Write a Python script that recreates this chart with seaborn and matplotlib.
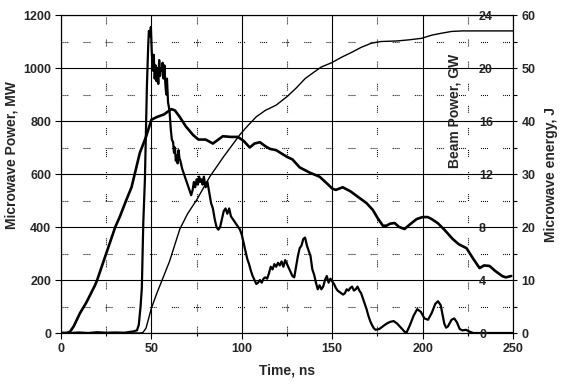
import numpy as np
import pandas as pd
import matplotlib
matplotlib.use('Agg')
import matplotlib.pyplot as plt
from matplotlib.ticker import MultipleLocator
import seaborn as sns

# microwave power, MW (noisy trace)
mw_time = [0, 5, 10, 15, 20, 25, 30, 35, 38, 40, 42, 43, 44, 44.7, 45.5, 46.4, 47.5, 48.2, 48.6,
           49.2, 49.7, 50.2, 50.8, 51.3, 51.8, 52.3, 52.8, 53.3, 53.8, 54.3, 54.8, 55.3, 55.8,
           56.2, 56.7, 57.2, 57.7, 58.2, 58.6, 59.2, 60, 60.7, 61.3, 62, 62.5, 63, 63.5, 64,
           64.5, 65, 65.5, 66, 67, 68, 69, 70, 71, 72, 72.8, 73.5, 74.2, 75, 75.7, 76.4, 77,
           77.7, 78.3, 79, 80, 81, 82, 83, 84, 85, 86, 87, 88, 89, 90, 91, 92, 93, 94, 95, 96,
           97, 98, 99, 100, 101, 102, 103, 104, 105, 106, 107, 108, 109, 110, 111, 112, 113,
           114, 115, 116, 117, 118, 119, 120, 121, 122, 123, 124, 125, 126, 127, 128, 129, 130,
           131, 132, 133, 134, 135, 136, 137, 138, 139, 140, 141, 142, 143, 144, 145, 146, 147,
           148, 149, 150, 151, 152, 153, 154, 155, 156, 157, 158, 159, 160, 161, 162, 163, 164,
           165, 166, 167, 168, 169, 170, 171, 172, 173, 174, 176, 178, 180, 182, 184, 186, 188, 190, 191,
           193, 195, 197, 199, 201, 203, 205, 207, 208.5, 210, 211, 212, 213, 214, 216, 217.5,
           219, 220.5, 222, 224, 226, 228, 250]
mw_power = [0, 0, 2, 0, 3, 1, 2, 1, 4, 6, 10, 30, 100, 170, 415, 580, 930, 1080, 1140,
            1120, 1155, 1060, 990, 1050, 960, 1010, 950, 1000, 940, 1030, 970, 1000, 990,
            1020, 960, 1010, 940, 900, 960, 870, 840, 770, 730, 720, 680, 700, 650, 670,
            640, 690, 660, 650, 620, 600, 580, 560, 540, 520, 540, 570, 550, 580, 560, 590, 570,
            580, 560, 590, 550, 570, 530, 490, 470, 430, 400, 390, 400, 430, 460, 470, 450, 470, 440, 430, 420,
            410, 400, 390, 370, 340, 310, 280, 260, 235, 215, 200, 185, 190, 200, 190, 205, 210,
            205, 225, 250, 240, 260, 250, 265, 255, 270, 250, 275, 260, 245, 230, 215, 210, 250,
            290, 320, 330, 355, 360, 330, 310, 290, 240, 220, 190, 165, 180, 165, 175, 200, 215,
            190, 205, 195, 185, 170, 160, 155, 150, 145, 150, 165, 160, 170, 175, 160, 165, 175,
            160, 150, 130, 110, 90, 65, 45, 30, 18, 12, 15, 25, 35, 42, 45, 35, 20, 5, 0,
            30, 65, 90, 80, 55, 50, 75, 110, 120, 105, 70, 35, 20, 25, 50, 55,
            40, 15, 10, 12, 5, 0, 0]

# beam power, GW
beam_time = [0, 3, 5, 7, 10.5, 14, 18.8, 20, 25, 30, 32.6, 36, 39, 43.6, 47, 50, 53, 57, 61,
             63, 65.7, 69, 73, 76, 80, 84, 87, 89.5, 94, 97.8, 101, 104.4, 107, 110, 113, 115.5,
             119, 124.9, 128, 132, 137.6, 143, 147, 150, 152, 155.8, 160, 165, 169, 172.4, 175,
             178, 180, 182, 184.5, 187, 190, 193, 196.7, 200, 202.8, 205, 208.3, 212, 216.6,
             220, 224.3, 228, 231.5, 234, 237, 240, 244, 246, 249]
beam_power = [0, 0, 0.1, 0.5, 1.5, 2.3, 3.6, 4.0, 6.0, 8.0, 8.8, 10.0, 11.0, 13.6, 14.8, 16.1,
              16.3, 16.5, 16.9, 16.8, 16.3, 15.6, 14.95, 14.6, 14.6, 14.3, 14.6, 14.85, 14.8,
              14.8, 14.5, 14.0, 14.3, 14.4, 14.1, 13.9, 13.8, 13.3, 13.1, 12.5, 12.1, 11.8,
              11.3, 10.9, 10.8, 11.0, 10.7, 10.2, 9.8, 9.3, 8.7, 8.1, 8.1, 8.25, 8.3, 8.0, 7.85,
              8.2, 8.6, 8.75, 8.75, 8.6, 8.3, 7.8, 7.1, 6.7, 6.4, 5.6, 4.9, 5.1, 5.06, 4.7, 4.3,
              4.2, 4.3]

# microwave energy, J
en_time = [0, 44, 45.3, 47, 50, 53, 56.4, 60, 65.7, 70, 75, 82.3, 90, 98.9, 103, 108, 113,
           119, 125, 130, 135, 139, 144, 149.7, 155, 161, 166, 171.8, 177, 185.6, 192, 199.4,
           205, 211, 216, 222, 250]
en_value = [0, 0, 0.1, 0.9, 4.7, 7.5, 10.4, 13.5, 19.6, 22.5, 25.1, 29.5, 33.3, 37.4, 39,
            40.8, 42, 43, 44.6, 46.2, 48, 49, 50.2, 51, 52, 53, 53.9, 54.7, 55, 55.1, 55.3,
            55.6, 56.2, 56.6, 56.9, 57, 57]

sns.set_style('white')
plt.rcParams['font.family'] = ['Liberation Sans', 'DejaVu Sans']
plt.rcParams['font.weight'] = 'bold'
plt.rcParams['lines.scale_dashes'] = False

fig = plt.figure(figsize=(5.66, 3.86), dpi=100)
ax = fig.add_axes([0.1078, 0.1373, 0.7986, 0.8238])
ax_e = ax.twinx()
ax_b = ax.twinx()

dots = (0, (0.7, 0.7, 0.7, 0.7, 0.7, 0.7, 0.7, 11))

sns.lineplot(x=mw_time, y=mw_power, ax=ax, color='black', linewidth=1.6)
sns.lineplot(x=en_time, y=en_value, ax=ax_e, color='black', linewidth=1.0)
sns.lineplot(x=beam_time, y=beam_power, ax=ax_b, color='black', linewidth=1.9)

ax.set_xlim(0, 250)
ax.set_ylim(0, 1200)
ax_e.set_ylim(0, 60)
ax_b.set_ylim(0, 24)

ax.xaxis.set_major_locator(MultipleLocator(50))
ax.xaxis.set_minor_locator(MultipleLocator(25))
ax.yaxis.set_major_locator(MultipleLocator(200))
ax.yaxis.set_minor_locator(MultipleLocator(100))
ax.grid(which='major', color='black', linewidth=0.8, linestyle='-')
ax.grid(which='minor', color='black', linewidth=0.8, linestyle=dots)
ax.set_axisbelow(True)

ax.tick_params(which='major', direction='out', length=4, width=0.8, color='black',
               labelsize=9, pad=3, left=True, bottom=True)
ax.tick_params(which='minor', direction='out', length=2.5, width=0.8, color='black',
               left=False, bottom=True)

ax_e.yaxis.set_major_locator(MultipleLocator(10))
ax_e.yaxis.set_minor_locator(MultipleLocator(5))
ax_e.tick_params(which='both', direction='out', length=3, width=0.8, color='black',
                 labelsize=9, pad=3, right=True)

ax_b.yaxis.set_major_locator(MultipleLocator(4))
ax_b.spines['right'].set_position(('axes', 0.925))
ax_b.tick_params(which='both', length=0, labelsize=9, pad=0, right=True)

for a in (ax, ax_e, ax_b):
    for s in a.spines.values():
        s.set_color('black')
        s.set_linewidth(0.8)
for s in ax_b.spines.values():
    s.set_visible(False)

ax.set_xlabel('Time, ns', fontsize=10, fontweight='bold', labelpad=6)
ax.set_ylabel('Microwave Power, MW', fontsize=10, fontweight='bold')
ax.yaxis.set_label_coords(-0.095, 0.56)
ax_e.set_ylabel('Microwave energy, J', fontsize=10, fontweight='bold', labelpad=6)
ax_b.set_ylabel('Beam Power, GW', fontsize=10, fontweight='bold')
ax_b.yaxis.set_label_coords(0.855, 0.70)

fig.savefig('out.png', dpi=100)
